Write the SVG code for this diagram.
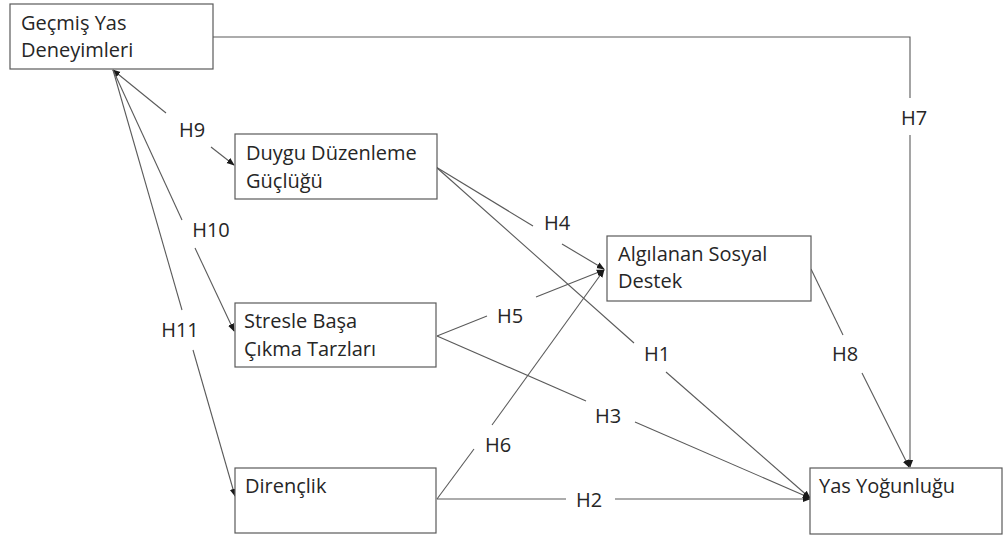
<svg xmlns="http://www.w3.org/2000/svg" width="1005" height="539" viewBox="0 0 1005 539">
<defs>
<style>
.box{fill:#fff;stroke:#5a5a5a;stroke-width:1.2}
.t{font-family:"Open Sans","Liberation Sans",sans-serif;font-size:20px;fill:#262626}
.lbl{font-family:"Open Sans","Liberation Sans",sans-serif;font-size:20px;fill:#262626;text-anchor:middle}
.c{fill:none;stroke:#5a5a5a;stroke-width:1.1}
.a{marker-end:url(#arr)}
</style>
<marker id="arr" viewBox="0 0 10 10" refX="9" refY="5" markerWidth="8" markerHeight="8" markerUnits="userSpaceOnUse" orient="auto-start-reverse">
<path d="M0,1 L10,5 L0,9 Z" fill="#1a1a1a"/>
</marker>
</defs>
<rect width="1005" height="539" fill="#fff"/>
<g id="connectors">
<path class="c" d="M113,70 L166,113" marker-start="url(#arr)"/>
<path class="c a" d="M211,147 L234,165"/>
<path class="c" d="M113,70 L182,220"/>
<path class="c a" d="M195,248 L234,331"/>
<path class="c" d="M113,70 L182,310"/>
<path class="c a" d="M193,350 L235,496"/>
<path class="c" d="M213,37 H910 V98"/>
<path class="c a" d="M910,135 V467"/>
<path class="c" d="M436,167 L533,226"/>
<path class="c a" d="M562,244 L604,269"/>
<path class="c" d="M436,167 L634,343"/>
<path class="c a" d="M666,372 L810,498"/>
<path class="c" d="M437,336 L487,316"/>
<path class="c a" d="M536,297 L604,270"/>
<path class="c" d="M437,336 L586,401"/>
<path class="c a" d="M635,422 L810,498"/>
<path class="c" d="M437,499 L474,449"/>
<path class="c a" d="M492,425 L604,270"/>
<path class="c" d="M437,499 H566"/>
<path class="c a" d="M615,499 H810"/>
<path class="c" d="M811,269 L843,335"/>
<path class="c a" d="M862,373 L909,467"/>
<text class="lbl" x="192" y="137">H9</text>
<text class="lbl" x="211" y="237">H10</text>
<text class="lbl" x="180" y="337">H11</text>
<text class="lbl" x="914" y="125">H7</text>
<text class="lbl" x="557" y="230">H4</text>
<text class="lbl" x="510" y="323">H5</text>
<text class="lbl" x="657" y="361">H1</text>
<text class="lbl" x="608" y="423">H3</text>
<text class="lbl" x="498" y="452">H6</text>
<text class="lbl" x="589" y="507">H2</text>
<text class="lbl" x="845" y="361">H8</text>
</g>
<g id="gecmis">
<rect class="box" x="10" y="4" width="203" height="65"/>
<text class="t" x="21" y="30">Geçmiş Yas</text>
<text class="t" x="21" y="57">Deneyimleri</text>
</g>
<g id="duygu">
<rect class="box" x="235" y="134" width="202" height="65"/>
<text class="t" x="246" y="160">Duygu Düzenleme</text>
<text class="t" x="246" y="188">Güçlüğü</text>
</g>
<g id="stresle">
<rect class="box" x="235" y="303" width="201" height="64"/>
<text class="t" x="244" y="328">Stresle Başa</text>
<text class="t" x="244" y="356">Çıkma Tarzları</text>
</g>
<g id="direnclik">
<rect class="box" x="235" y="468" width="201" height="65"/>
<text class="t" x="245" y="493">Dirençlik</text>
</g>
<g id="algilanan">
<rect class="box" x="607" y="236" width="204" height="65"/>
<text class="t" x="618" y="261">Algılanan Sosyal</text>
<text class="t" x="618" y="288">Destek</text>
</g>
<g id="yas">
<rect class="box" x="810" y="468" width="192" height="66"/>
<text class="t" x="819" y="493">Yas Yoğunluğu</text>
</g>
</svg>
